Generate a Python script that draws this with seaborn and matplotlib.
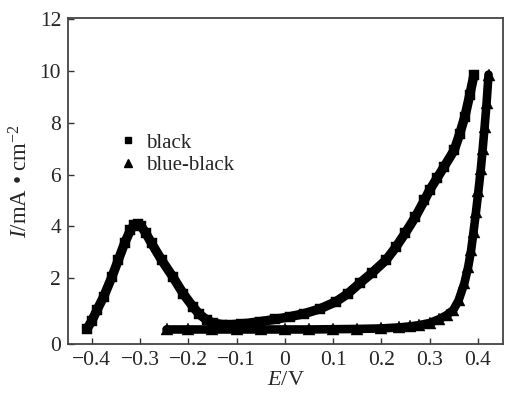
import matplotlib
matplotlib.use("Agg")
import matplotlib.pyplot as plt
import seaborn as sns
import pandas as pd
from matplotlib.lines import Line2D

# black sample: potential (V) and current density (mA/cm2)
black_E = [-0.410, -0.400, -0.389, -0.375, -0.358, -0.345, -0.332, -0.320, -0.312, -0.305,
           -0.298, -0.288, -0.276, -0.255, -0.232, -0.210, -0.190, -0.177, -0.162, -0.149,
           -0.130, -0.114, -0.090, -0.052, -0.020, 0.010, 0.040, 0.072, 0.106, 0.130,
           0.155, 0.180, 0.210, 0.230, 0.249, 0.270, 0.289, 0.300, 0.315, 0.330,
           0.351, 0.362, 0.373, 0.383, 0.392]
black_I = [0.05, 0.35, 0.78, 1.30, 2.06, 2.70, 3.35, 3.85, 4.05, 4.10,
           4.02, 3.75, 3.35, 2.70, 2.06, 1.40, 0.90, 0.62, 0.40, 0.28,
           0.22, 0.21, 0.24, 0.33, 0.42, 0.52, 0.64, 0.82, 1.10, 1.40,
           1.81, 2.20, 2.71, 3.20, 3.73, 4.35, 5.00, 5.40, 5.85, 6.30,
           6.94, 7.55, 8.23, 9.05, 9.85]

# blue-black sample
blue_E = [-0.245, -0.200, -0.150, -0.100, -0.050, 0.000, 0.050, 0.100, 0.150, 0.200,
          0.237, 0.260, 0.279, 0.300, 0.320, 0.335, 0.349, 0.360, 0.372, 0.380,
          0.386, 0.391, 0.396, 0.401, 0.406, 0.410, 0.414, 0.418, 0.422]
blue_I = [0.03, 0.03, 0.03, 0.03, 0.03, 0.03, 0.03, 0.04, 0.05, 0.07,
          0.11, 0.15, 0.20, 0.28, 0.43, 0.58, 0.78, 1.15, 1.81, 2.45,
          3.09, 3.80, 4.55, 5.35, 6.20, 7.00, 7.85, 8.75, 9.85]

x_ticks = [-0.4, -0.3, -0.2, -0.1, 0, 0.1, 0.2, 0.3, 0.4]
x_labels = ["\u22120.4", "\u22120.3", "\u22120.2", "\u22120.1", "0", "0.1", "0.2", "0.3", "0.4"]
y_ticks = [2, 4, 6, 8, 10, 12]

sns.set_style("ticks")
plt.rcParams['font.family'] = ['Liberation Serif', 'DejaVu Serif']
plt.rcParams['mathtext.fontset'] = 'custom'
plt.rcParams['mathtext.rm'] = 'Liberation Serif'
plt.rcParams['mathtext.it'] = 'Liberation Serif:italic'

df_black = pd.DataFrame({"E": black_E, "I": black_I})
df_blue = pd.DataFrame({"E": blue_E, "I": blue_I})

fig = plt.figure(figsize=(5.13, 3.94), dpi=100)
ax = fig.add_axes([0.1326, 0.1269, 0.8479, 0.8267])

sns.lineplot(data=df_black, x="E", y="I", sort=False, estimator=None, color="black",
             linewidth=6.8, marker="s", markersize=6.5, markeredgecolor="black",
             markeredgewidth=0.3, ax=ax)
sns.lineplot(data=df_blue, x="E", y="I", sort=False, estimator=None, color="black",
             linewidth=6.2, marker="^", markersize=8, markeredgecolor="black",
             markeredgewidth=0.3, ax=ax)

ax.set_xlim(-0.449, 0.452)
ax.set_ylim(-0.53, 12.02)
ax.set_xticks(x_ticks)
ax.set_xticklabels(x_labels)
ax.set_yticks([-0.53] + y_ticks)
ax.set_yticklabels(["0"] + [str(v) for v in y_ticks])
ax.tick_params(direction="in", length=4, width=1, labelsize=15.5, color="#333333", pad=5)
for s in ax.spines.values():
    s.set_color("#444444")
    s.set_linewidth(1.3)

ax.set_xlabel(r"$E$/V", fontsize=16, labelpad=1)
ax.set_ylabel("$I$/mA \u2022 cm$^{-2}$", fontsize=16.5, labelpad=5)

handles = [Line2D([], [], color="black", marker="s", linestyle="none", markersize=5),
           Line2D([], [], color="black", marker="^", linestyle="none", markersize=6)]
ax.legend(handles, ["black", "blue-black"], loc="upper left", bbox_to_anchor=(0.075, 0.705),
          frameon=False, fontsize=15, handlelength=0.8, handletextpad=0.5, labelspacing=0.15)

fig.savefig("out.png", dpi=100)
